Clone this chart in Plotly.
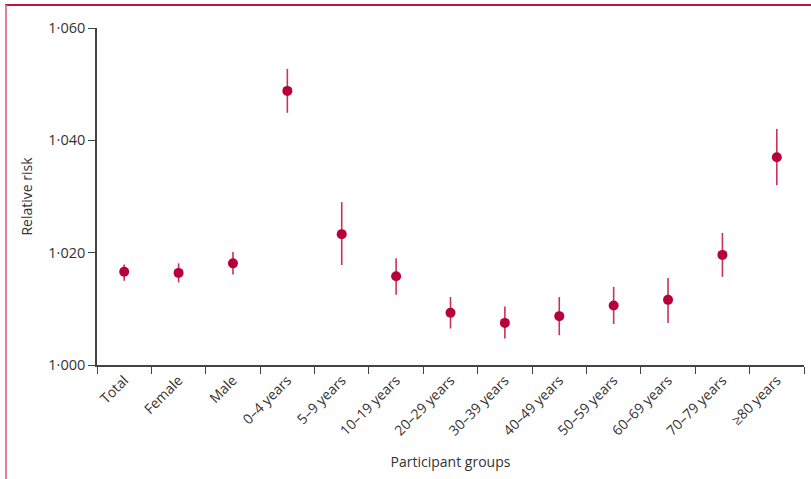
import plotly.graph_objects as go

groups = ["Total", "Female", "Male", "0–4 years", "5–9 years", "10–19 years",
          "20–29 years", "30–39 years", "40–49 years", "50–59 years",
          "60–69 years", "70–79 years", "≥80 years"]
rr = [1.0166, 1.0164, 1.0181, 1.0488, 1.0233, 1.0158, 1.0093, 1.0075,
      1.0087, 1.0106, 1.0116, 1.0196, 1.0370]
ci_low = [1.0150, 1.0147, 1.0161, 1.0449, 1.0178, 1.0125, 1.0065, 1.0047,
          1.0053, 1.0073, 1.0075, 1.0157, 1.0320]
ci_high = [1.0179, 1.0181, 1.0201, 1.0527, 1.0290, 1.0190, 1.0121, 1.0104,
           1.0121, 1.0139, 1.0155, 1.0235, 1.0420]
ytick_vals = [1.000, 1.020, 1.040, 1.060]
ytick_text = ["1·000", "1·020", "1·040", "1·060"]

FONT = "'Open Sans', 'Noto Sans', sans-serif"
RED = "#b8003a"

fig = go.Figure(go.Scatter(
    x=groups, y=rr, mode="markers",
    marker=dict(color=RED, size=10),
    error_y=dict(type="data", symmetric=False,
                 array=[h - v for h, v in zip(ci_high, rr)],
                 arrayminus=[v - l for v, l in zip(rr, ci_low)],
                 color="#c8325e", thickness=1.6, width=0),
    showlegend=False,
))

fig.update_layout(
    width=811, height=479,
    margin=dict(l=97, r=7, t=28, b=114, autoexpand=False),
    paper_bgcolor="white", plot_bgcolor="white",
    font=dict(family=FONT, size=14, color="#333"),
    xaxis=dict(
        type="category", range=[-0.5, 12.5], automargin=False,
        showline=True, linecolor="#444", linewidth=1.6,
        ticks="outside", tickson="boundaries", ticklen=7, tickcolor="#444", tickwidth=1.4,
        tickangle=-45, showgrid=False, zeroline=False,
        tickfont=dict(size=14, color="#333"),
        title=dict(text="Participant groups", font=dict(size=14, color="#333"), standoff=19),
    ),
    yaxis=dict(
        range=[1.000, 1.060], tickvals=ytick_vals, ticktext=ytick_text, automargin=False,
        showline=True, linecolor="#444", linewidth=1.6,
        ticks="outside", ticklen=7, tickcolor="#444", tickwidth=1.4,
        showgrid=False, zeroline=False,
        tickfont=dict(size=14.5, color="#333"),
        title=dict(text="Relative risk", font=dict(size=14, color="#333"), standoff=12),
    ),
    shapes=[
        dict(type="line", xref="paper", yref="paper",
             x0=(5 - 97) / 707, x1=1.02, y0=(365 - 5) / 337, y1=(365 - 5) / 337,
             line=dict(color="#c0143c", width=2)),
        dict(type="line", xref="paper", yref="paper",
             x0=(6 - 97) / 707, x1=(6 - 97) / 707, y0=(365 - 5) / 337, y1=-0.4,
             line=dict(color="#e07f9a", width=2)),
    ],
)

fig.write_html("out.html", config={"displayModeBar": False},
               post_script="document.body.style.margin='0';")
